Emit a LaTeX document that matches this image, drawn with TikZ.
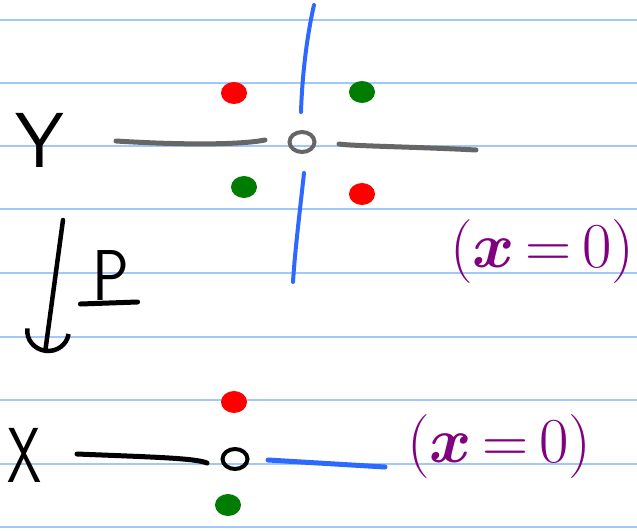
\RequirePackage{fix-cm}
\documentclass[tikz,border=0pt]{standalone}
\usepackage{fontspec}
\usetikzlibrary{shapes.geometric, arrows.meta}

\definecolor{rulecol}{RGB}{160,200,250}
\definecolor{inkgray}{RGB}{102,102,102}
\definecolor{inkblue}{RGB}{45,105,255}
\definecolor{inkgreen}{RGB}{0,125,0}
\definecolor{inkpurple}{RGB}{128,0,128}

\begin{document}
\begin{tikzpicture}[x=1pt, y=-1pt,
  ruled/.style={draw=rulecol, line width=2pt},
  blob/.style={ellipse, fill=#1, inner sep=0pt, minimum width=26pt, minimum height=22pt},
  ring/.style={ellipse, draw=#1, line width=4pt, inner sep=0pt, minimum width=25pt, minimum height=20pt},
  letter/.style={font=\fontsize{78}{80}\selectfont\sffamily, inner sep=0pt, anchor=base},
  note/.style={font=\fontsize{64}{66}\selectfont\boldmath, text=inkpurple, inner sep=0pt, anchor=base west},
  pen/.style={line width=5pt, line cap=round}
]
  \useasboundingbox[fill=white] (0,0) rectangle (637,530);
  \foreach \y in {20,83,146,209,273,337,400,464,527} { \draw[ruled] (0,\y) -- (637,\y); }

  % total space Y
  \node[letter] (Y) at (40,167) {Y};
  \node[ring=inkgray] (o1) at (302,142) {};
  \node[blob=red] (r1) at (234,93) {};
  \node[blob=inkgreen] (g1) at (362,92) {};
  \node[blob=inkgreen] (g2) at (244,187) {};
  \node[blob=red] (r2) at (362,194) {};
  \node[note] (c1) at (450,267) {($x$\,=\,0)};

  \coordinate (a1) at (116,141); \coordinate (a2) at (265,140);
  \coordinate (a3) at (339,144); \coordinate (a4) at (476,150);
  \coordinate (b1) at (314,5);   \coordinate (b2) at (301,112);
  \coordinate (b3) at (304,173); \coordinate (b4) at (293,282);
  \draw[pen, inkgray] (a1) .. controls (180,145) and (240,145) .. (a2);
  \draw[pen, inkgray] (a3) .. controls (350,146) and (420,147) .. (a4);
  \draw[pen, inkblue, line width=4pt] (b1) .. controls (306,40) and (302,80) .. (b2);
  \draw[pen, inkblue, line width=4pt] (b3) .. controls (300,210) and (295,250) .. (b4);

  % projection
  \node[letter, font=\fontsize{72}{74}\selectfont\sffamily] (P) at (111,300) {\scalebox{0.85}[1]{P}};
  \draw[pen] ([xshift=-12pt,yshift=-4pt]P.base west) -- ([xshift=8pt,yshift=-2pt]P.base east);
  \coordinate (p1) at (63,220); \coordinate (p2) at (45,353);
  \draw[pen, line width=4.5pt, -{Arc Barb[length=22pt, width=46pt]}] (p1) -- (p2);

  % base space X
  \node[letter] (X) at (25,482) {\scalebox{0.7}[1]{X}};
  \node[ring=black] (o2) at (235,459) {};
  \node[blob=red] (r3) at (234,402) {};
  \node[blob=inkgreen] (g3) at (228,505) {};
  \node[note] (c2) at (407,462) {($x$\,=\,0)};

  \coordinate (d1) at (77,454);  \coordinate (d2) at (207,463);
  \coordinate (d3) at (268,460); \coordinate (d4) at (385,467);
  \draw[pen] (d1) .. controls (150,457) and (195,458) .. (d2);
  \draw[pen, inkblue] (d3) -- (d4);
\end{tikzpicture}
\end{document}
